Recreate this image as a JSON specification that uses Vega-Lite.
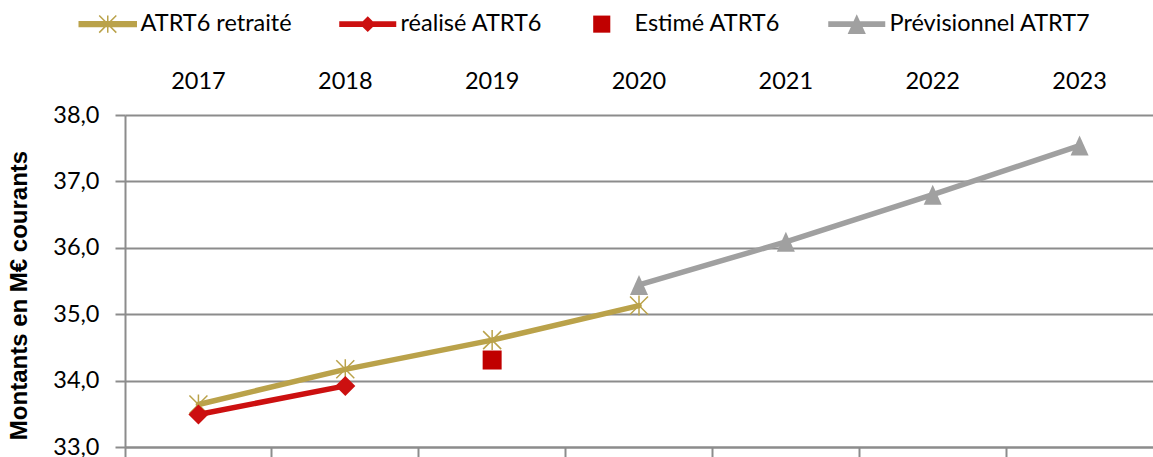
{
  "$schema": "https://vega.github.io/schema/vega-lite/v6.json",
  "width": 1028,
  "height": 332,
  "autosize": {"type": "none"},
  "padding": {"left": 125, "top": 115, "right": 0, "bottom": 10},
  "background": "white",
  "config": {"view": {"stroke": null}, "font": "Lato"},
  "data": {
    "values": [
      {"year": "2017", "series": "ATRT6 retraité", "value": 33.64},
      {"year": "2018", "series": "ATRT6 retraité", "value": 34.17},
      {"year": "2019", "series": "ATRT6 retraité", "value": 34.61},
      {"year": "2020", "series": "ATRT6 retraité", "value": 35.13},
      {"year": "2017", "series": "réalisé ATRT6", "value": 33.49},
      {"year": "2018", "series": "réalisé ATRT6", "value": 33.92},
      {"year": "2019", "series": "Estimé ATRT6", "value": 34.31},
      {"year": "2020", "series": "Prévisionnel ATRT7", "value": 35.44},
      {"year": "2021", "series": "Prévisionnel ATRT7", "value": 36.09},
      {"year": "2022", "series": "Prévisionnel ATRT7", "value": 36.8},
      {"year": "2023", "series": "Prévisionnel ATRT7", "value": 37.54}
    ]
  },
  "resolve": {"axis": {"x": "independent"}},
  "encoding": {
    "x": {
      "field": "year",
      "type": "ordinal",
      "scale": {"type": "band", "domain": ["2017", "2018", "2019", "2020", "2021", "2022", "2023"], "paddingInner": 0, "paddingOuter": 0},
      "axis": null
    },
    "y": {
      "field": "value",
      "type": "quantitative",
      "scale": {"domain": [33, 38], "zero": false, "nice": false},
      "axis": {
        "values": [33, 34, 35, 36, 37, 38],
        "labelExpr": "replace(format(datum.value, '.1f'), '.', ',')",
        "title": "Montants en M€ courants",
        "titleFont": "Liberation Sans",
        "titleFontSize": 24,
        "titleFontWeight": "bold",
        "titleColor": "black",
        "titlePadding": 21,
        "titleY": 180,
        "labelFont": "Lato",
        "labelFontSize": 23.5,
        "labelColor": "black",
        "labelPadding": 16,
        "tickSize": 10,
        "tickColor": "#8c8c8c",
        "tickWidth": 2,
        "domainColor": "#8c8c8c",
        "domainWidth": 2,
        "grid": true,
        "gridColor": "#8c8c8c",
        "gridWidth": 2
      }
    },
    "color": {
      "field": "series",
      "type": "nominal",
      "scale": {
        "domain": ["ATRT6 retraité", "réalisé ATRT6", "Estimé ATRT6", "Prévisionnel ATRT7"],
        "range": ["#BAA24A", "#CC1010", "#C00000", "#A0A0A0"]
      },
      "legend": null
    }
  },
  "layer": [
    {
      "transform": [{"filter": "datum.series === 'ATRT6 retraité'"}],
      "mark": {"type": "line", "strokeWidth": 5.5, "strokeCap": "round"},
      "encoding": {
        "x": {
          "field": "year",
          "type": "ordinal",
          "axis": {"orient": "top", "domain": false, "ticks": false, "grid": false, "labelFont": "Lato", "labelFontSize": 23.5, "labelColor": "black", "labelPadding": 22, "labelAngle": 0, "title": null}
        },
        "color": {
          "field": "series",
          "type": "nominal",
          "legend": {
            "orient": "none",
            "legendX": -29,
            "legendY": -103,
            "direction": "horizontal",
            "columns": 4,
            "title": null,
            "padding": 0,
            "symbolSize": 3249,
            "labelOffset": 21,
            "columnPadding": 47,
            "labelFont": "Lato",
            "labelFontSize": 23.5,
            "labelColor": "black",
            "labelLimit": 400,
            "encode": {
              "symbols": {
                "update": {
                  "shape": {"signal": "datum.value === 'ATRT6 retraité' ? 'M-1,-0.08H1V0.08H-1ZM0,-0.3V0.3M-0.3,-0.3L0.3,0.3M-0.3,0.3L0.3,-0.3' : datum.value === 'réalisé ATRT6' ? 'M-1,-0.105H1V0.105H-1ZM0,-0.28L0.28,0L0,0.28L-0.28,0Z' : datum.value === 'Estimé ATRT6' ? 'M-0.3,-0.3H0.3V0.3H-0.3Z' : 'M-1,-0.105H1V0.105H-1ZM0,-0.35L0.32,0.35L-0.32,0.35Z'"},
                  "fill": {"signal": "scale('color', datum.value)"},
                  "stroke": {"signal": "scale('color', datum.value)"},
                  "strokeWidth": {"signal": "datum.value === 'ATRT6 retraité' ? 1.5 : 0"},
                  "opacity": {"value": 1},
                  "fillOpacity": {"value": 1},
                  "strokeOpacity": {"value": 1}
                }
              }
            }
          }
        }
      }
    },
    {
      "transform": [{"filter": "datum.series === 'ATRT6 retraité'"}],
      "mark": {"type": "point", "shape": "M0,-1V1M-0.9,-0.9L0.9,0.9M-0.9,0.9L0.9,-0.9", "filled": false, "size": 400, "strokeWidth": 1.5, "opacity": 1}
    },
    {
      "transform": [{"filter": "datum.series === 'réalisé ATRT6'"}],
      "mark": {"type": "line", "strokeWidth": 5.5, "strokeCap": "round"},
      "encoding": {
        "x": {
          "field": "year",
          "type": "ordinal",
          "axis": {"orient": "bottom", "labels": false, "domain": true, "domainColor": "#8c8c8c", "domainWidth": 2, "ticks": true, "tickSize": 10, "tickColor": "#8c8c8c", "tickWidth": 2, "bandPosition": 0, "grid": false, "title": null}
        }
      }
    },
    {
      "transform": [{"filter": "datum.series === 'réalisé ATRT6'"}],
      "mark": {"type": "point", "shape": "diamond", "filled": true, "size": 400, "opacity": 1}
    },
    {
      "transform": [{"filter": "datum.series === 'Estimé ATRT6'"}],
      "mark": {"type": "point", "shape": "square", "filled": true, "size": 361, "opacity": 1}
    },
    {
      "transform": [{"filter": "datum.series === 'Prévisionnel ATRT7'"}],
      "mark": {"type": "line", "strokeWidth": 5.5, "strokeCap": "round"}
    },
    {
      "transform": [{"filter": "datum.series === 'Prévisionnel ATRT7'"}],
      "mark": {"type": "point", "shape": "M0,-1L0.9,1L-0.9,1Z", "filled": true, "size": 400, "opacity": 1}
    }
  ]
}
